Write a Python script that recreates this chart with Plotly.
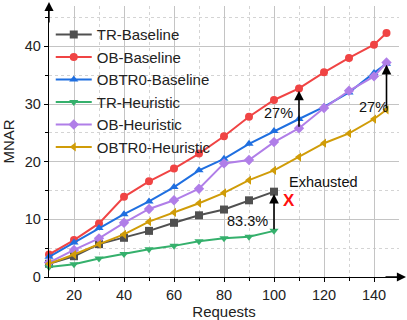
import plotly.graph_objects as go

x_full = [10, 20, 30, 40, 50, 60, 70, 80, 90, 100, 110, 120, 130, 140, 145]
x_tr = [10, 20, 30, 40, 50, 60, 70, 80, 90, 100]

tr_baseline = [2.3, 3.6, 5.7, 6.8, 8.0, 9.4, 10.7, 11.7, 13.3, 14.8]
ob_baseline = [3.9, 6.4, 9.3, 13.9, 16.6, 18.8, 21.4, 24.4, 27.8, 30.7, 32.7, 35.5, 38.0, 40.3, 42.3]
obtr0_baseline = [3.5, 6.0, 8.5, 10.9, 13.1, 15.6, 18.5, 20.5, 23.1, 25.3, 27.4, 29.5, 32.0, 35.4, 37.0]
tr_heuristic = [1.75, 2.2, 3.2, 4.0, 4.8, 5.4, 6.2, 6.7, 7.0, 8.0]
ob_heuristic = [2.5, 4.7, 6.7, 9.4, 11.8, 13.3, 15.3, 19.7, 20.3, 23.4, 25.8, 29.3, 32.3, 34.8, 37.2]
obtr0_heuristic = [2.3, 3.9, 5.7, 7.4, 9.6, 11.2, 12.8, 14.6, 16.8, 18.5, 20.8, 23.2, 24.9, 27.4, 29.0]

series = [
    ("TR-Baseline", x_tr, tr_baseline, "#505050", "square"),
    ("OB-Baseline", x_full, ob_baseline, "#f04444", "circle"),
    ("OBTR0-Baseline", x_full, obtr0_baseline, "#1f6fe0", "triangle-up"),
    ("TR-Heuristic", x_tr, tr_heuristic, "#35b06c", "triangle-down"),
    ("OB-Heuristic", x_full, ob_heuristic, "#b07ee8", "diamond"),
    ("OBTR0-Heuristic", x_full, obtr0_heuristic, "#d09c08", "triangle-left"),
]

font = "Liberation Sans, Arial, sans-serif"
fig = go.Figure()
for name, xs, ys, c, m in series:
    fig.add_trace(go.Scatter(x=xs, y=ys, name=name, mode="lines+markers",
                             line=dict(color=c, width=2),
                             marker=dict(color=c, symbol=m, size=8),
                             cliponaxis=False))

def idx(xs, v):
    return xs.index(v)

annotations = []
# gap arrows
for xv, lo, hi in [(110, ob_heuristic[idx(x_full, 110)], ob_baseline[idx(x_full, 110)]),
                   (145, obtr0_heuristic[idx(x_full, 145)], ob_heuristic[idx(x_full, 145)]),
                   (100, tr_heuristic[idx(x_tr, 100)], tr_baseline[idx(x_tr, 100)])]:
    annotations.append(dict(x=xv, y=hi - 0.4, ax=xv, ay=lo, xref="x", yref="y", axref="x", ayref="y",
                            showarrow=True, arrowhead=2, arrowsize=1.2, arrowwidth=1.6,
                            arrowcolor="black", text=""))
annotations += [
    dict(x=101.6, y=28.4, text="27%", showarrow=False, font=dict(size=14.5, color="#111", family=font)),
    dict(x=139.6, y=29.4, text="27%", showarrow=False, font=dict(size=14.5, color="#111", family=font)),
    dict(x=89.4, y=9.7, text="83.3%", showarrow=False, font=dict(size=14.5, color="#111", family=font)),
    dict(x=119.6, y=16.5, text="Exhausted", showarrow=False, font=dict(size=14.5, color="#111", family=font)),
    dict(x=105.8, y=13.2, text="<b>X</b>", showarrow=False, font=dict(size=17, color="#ff1010", family=font)),
    # axis arrows
    dict(x=0, y=1.015, xref="paper", yref="paper", ax=0, ay=22, showarrow=True, arrowhead=2,
         arrowsize=1.3, arrowwidth=1.4, arrowcolor="black", text=""),
    dict(x=1.02, y=0, xref="paper", yref="paper", ax=-22, ay=0, showarrow=True, arrowhead=2,
         arrowsize=1.3, arrowwidth=1.4, arrowcolor="black", text=""),
]

axis_common = dict(showline=True, linecolor="black", linewidth=1.4, gridcolor="#c4c4c4", gridwidth=1,
                   ticks="outside", ticklen=4, tickcolor="black", zeroline=False,
                   tickfont=dict(size=14.5, color="#222", family=font))
fig.update_layout(
    width=407, height=320,
    margin=dict(l=49, r=8, t=6, b=43),
    paper_bgcolor="white", plot_bgcolor="white",
    font=dict(family=font, color="#222"),
    xaxis=dict(range=[10, 150], tickvals=[20, 40, 60, 80, 100, 120, 140],
               minor=dict(tickvals=[30, 50, 70, 90, 110, 130], showgrid=True, gridcolor="#d4d4d4",
                          griddash="dot", ticks="outside", ticklen=3, tickcolor="black"),
               title=dict(text="Requests", font=dict(size=15, family=font), standoff=2),
               **axis_common),
    yaxis=dict(range=[0, 47], tickvals=[0, 10, 20, 30, 40],
               minor=dict(tickvals=[5, 15, 25, 35, 45], showgrid=True, gridcolor="#d4d4d4",
                          griddash="dot", ticks="outside", ticklen=3, tickcolor="black"),
               title=dict(text="MNAR", font=dict(size=15, family=font), standoff=6),
               **axis_common),
    legend=dict(x=0.005, y=0.955, xanchor="left", yanchor="top", bgcolor="rgba(0,0,0,0)",
                font=dict(size=15, family=font, color="#222"), itemwidth=36, tracegroupgap=0),
    annotations=annotations,
    showlegend=True,
)
fig.write_html("out.html")
